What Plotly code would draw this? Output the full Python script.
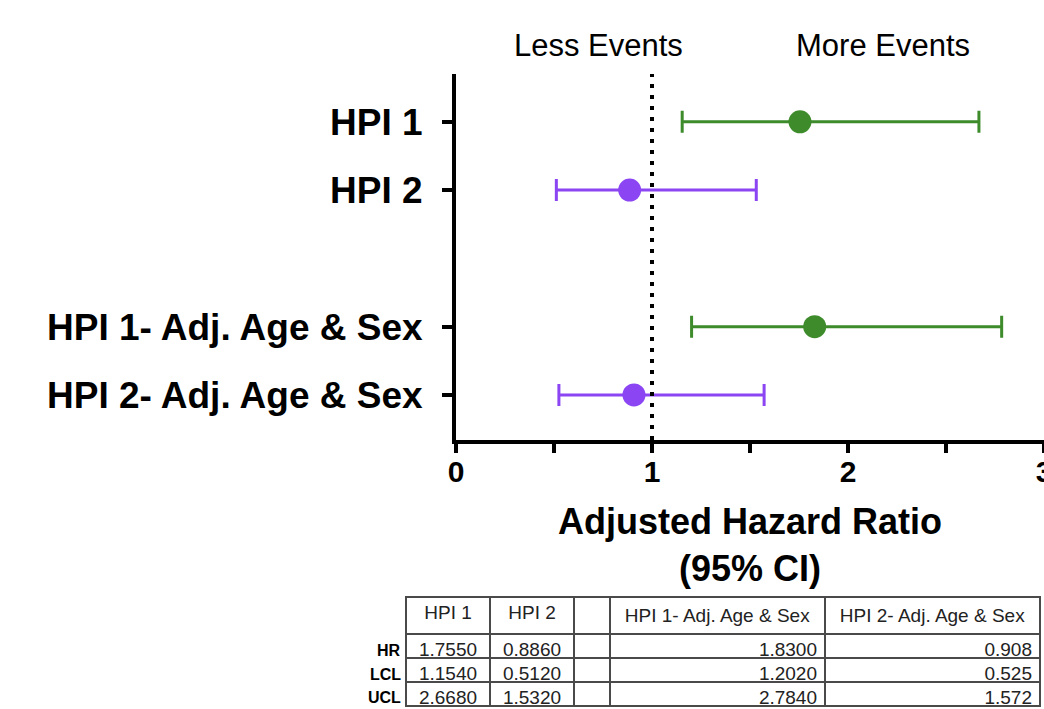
import plotly.graph_objects as go

# ---- data ----
categories = ["HPI 1", "HPI 2", "HPI 1- Adj. Age & Sex", "HPI 2- Adj. Age & Sex"]
positions = [0, 1, 3, 4]
hr = [1.7550, 0.8860, 1.8300, 0.908]
lcl = [1.1540, 0.5120, 1.2020, 0.525]
ucl = [2.6680, 1.5320, 2.7840, 1.572]
colors = ["#3d8b2b", "#8b45f3", "#3d8b2b", "#8b45f3"]

table_header = ["HPI 1", "HPI 2", "", "HPI 1- Adj. Age & Sex", "HPI 2- Adj. Age & Sex"]
table_rows = ["HR", "LCL", "UCL"]
table_cols = [
    ["1.7550", "1.1540", "2.6680"],
    ["0.8860", "0.5120", "1.5320"],
    ["", "", ""],
    ["1.8300", "1.2020", "2.7840"],
    ["0.908", "0.525", "1.572"],
]

W, H = 1044, 709
FONT = "Liberation Sans, Arial, Helvetica, sans-serif"

fig = go.Figure()

for i in range(len(categories)):
    fig.add_trace(go.Scatter(
        x=[hr[i]], y=[positions[i]], mode="markers",
        marker=dict(size=23, color=colors[i]),
        error_x=dict(type="data", symmetric=False,
                     array=[ucl[i] - hr[i]], arrayminus=[hr[i] - lcl[i]],
                     color=colors[i], thickness=3, width=11),
        showlegend=False, hoverinfo="skip", cliponaxis=False,
    ))

# reference line at HR = 1
fig.add_shape(type="line", xref="x", yref="y domain", x0=1, x1=1, y0=0, y1=1,
              line=dict(color="black", width=4, dash="4px,7px"), layer="above")

# table
fig.add_trace(go.Table(
    domain=dict(x=[406 / W, 1040 / W], y=[0, (H - 597) / H]),
    columnwidth=[84, 84, 36, 215, 215],
    header=dict(values=table_header, height=32,
                align="center", line=dict(color="#4a4a4a", width=1.5),
                fill=dict(color="white"),
                font=dict(family=FONT, size=19, color="#222222")),
    cells=dict(values=table_cols, height=24,
               align=["center", "center", "center", "right", "right"],
               line=dict(color="#4a4a4a", width=1.5),
               fill=dict(color="white"),
               font=dict(family=FONT, size=19, color="#222222")),
))

annotations = [
    dict(text="Less Events", x=598 / W, y=1 - 45 / H, xref="paper", yref="paper",
         showarrow=False, font=dict(family=FONT, size=31, color="black"),
         xanchor="center", yanchor="middle"),
    dict(text="More Events", x=883 / W, y=1 - 45 / H, xref="paper", yref="paper",
         showarrow=False, font=dict(family=FONT, size=31, color="black"),
         xanchor="center", yanchor="middle"),
]
row_y = [650, 674, 697]
for lab, py in zip(table_rows, row_y):
    annotations.append(dict(text=lab, x=403 / W, y=1 - py / H, xref="paper", yref="paper",
                            showarrow=False, xanchor="right", yanchor="middle",
                            font=dict(family=FONT, size=16, color="black", weight="bold")))

fig.update_layout(
    width=W, height=H,
    margin=dict(l=0, r=0, t=0, b=0),
    paper_bgcolor="white", plot_bgcolor="white",
    font=dict(family=FONT, color="black"),
    annotations=annotations,
    xaxis=dict(
        domain=[456 / W, 1.0], range=[0, 3], automargin=False,
        tickvals=[0, 1, 2, 3], ticktext=["0", "1", "2", "3"],
        showline=True, linecolor="black", linewidth=4,
        ticks="outside", ticklen=9, tickwidth=4, tickcolor="black",
        minor=dict(tickvals=[0.5, 1.5, 2.5], ticks="outside", ticklen=9,
                   tickwidth=4, tickcolor="black", showgrid=False),
        showgrid=False, zeroline=False, ticklabelstandoff=-7,
        ticklabeloverflow="allow",
        tickfont=dict(family=FONT, size=30, color="black", weight="bold"),
        title=dict(text="Adjusted Hazard Ratio<br>(95% CI)", standoff=23,
                   font=dict(family=FONT, size=36, color="black", weight="bold")),
    ),
    yaxis=dict(
        domain=[1 - 440 / H, 1 - 74 / H], range=[4.66, -0.70], automargin=False,
        tickvals=positions, ticktext=categories,
        showline=True, linecolor="black", linewidth=4,
        ticks="outside", ticklen=10, tickwidth=4, tickcolor="black",
        showgrid=False, zeroline=False, ticklabelstandoff=12,
        tickfont=dict(family=FONT, size=37, color="black", weight="bold"),
    ),
)

fig.write_html(
    "out.html",
    config={"displayModeBar": False},
    post_script="document.body.style.margin='0';document.body.style.overflow='hidden';",
)
